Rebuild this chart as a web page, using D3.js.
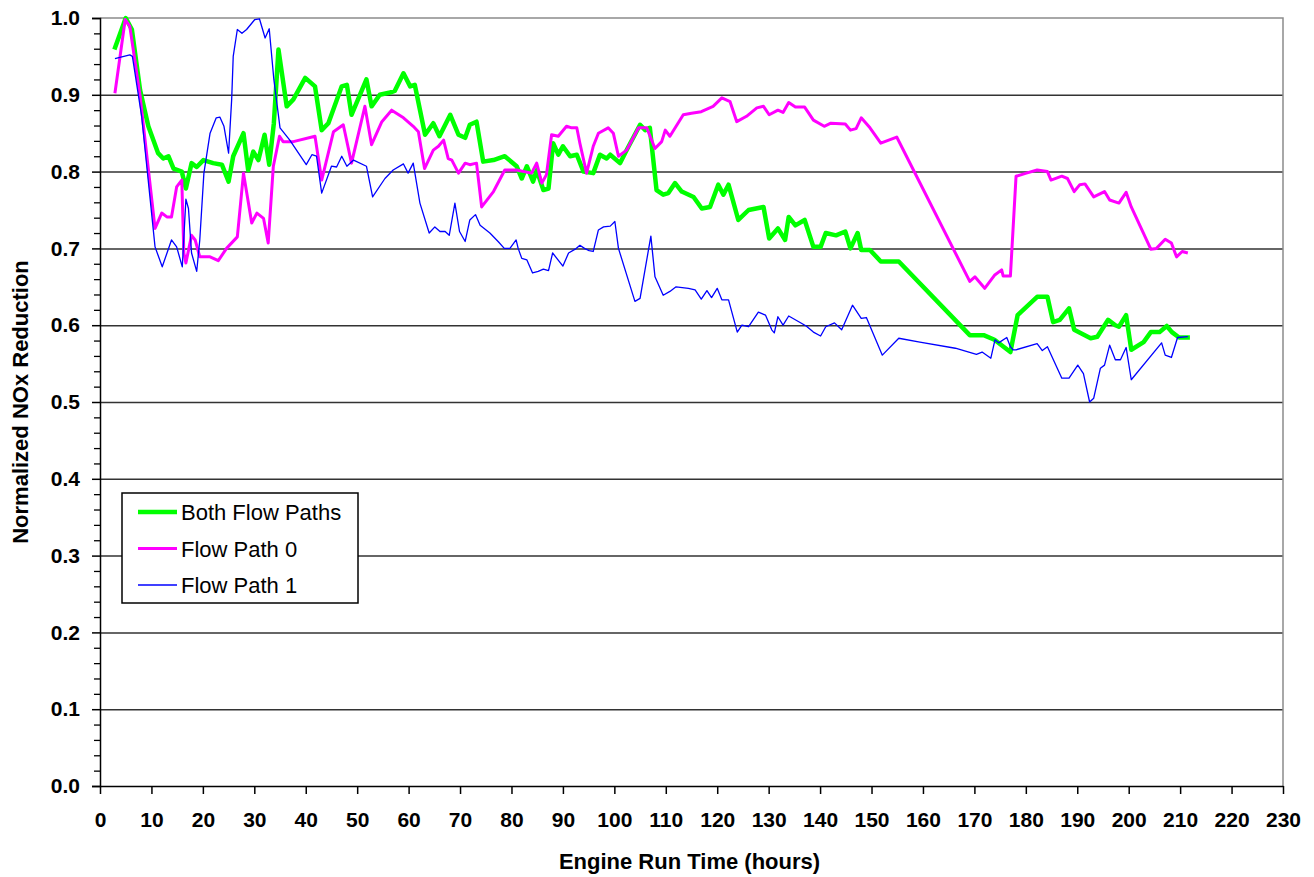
<!DOCTYPE html>
<html>
<head>
<meta charset="utf-8">
<script src="https://cdn.jsdelivr.net/npm/d3@7"></script>
<style>
  body { margin: 0; background: #fff; }
  #chart { width: 1314px; height: 877px; }
</style>
</head>
<body>
<div id="chart"></div>
<script>
// Series values: [engine hours, normalized NOx reduction]
var bothFlowPaths = [[2.8,0.959],[5.0,1.0],[6.2,0.985],[7.8,0.906],[9.4,0.859],[11.3,0.824],[12.3,0.817],[13.3,0.82],[14.3,0.804],[15.9,0.80],[16.7,0.778],[17.8,0.811],[18.8,0.806],[20.1,0.815],[22.0,0.811],[23.7,0.809],[25.0,0.787],[25.9,0.82],[27.9,0.85],[28.8,0.802],[29.8,0.826],[30.8,0.815],[32.0,0.848],[32.9,0.809],[33.8,0.863],[34.7,0.959],[36.3,0.885],[37.6,0.894],[39.9,0.922],[41.8,0.911],[43.1,0.854],[44.4,0.863],[47.0,0.911],[48.0,0.913],[48.9,0.874],[51.8,0.92],[52.8,0.885],[54.4,0.90],[56.4,0.903],[57.3,0.905],[59.0,0.928],[60.3,0.911],[61.2,0.913],[63.2,0.848],[64.8,0.863],[66.0,0.846],[68.1,0.874],[69.7,0.848],[71.0,0.844],[71.9,0.861],[73.2,0.865],[74.5,0.813],[76.5,0.815],[78.7,0.82],[81.0,0.807],[82.0,0.791],[83.0,0.807],[84.2,0.787],[84.9,0.802],[86.2,0.776],[87.2,0.778],[88.1,0.837],[89.1,0.822],[90.0,0.833],[91.4,0.82],[92.7,0.822],[94.0,0.80],[95.9,0.798],[97.2,0.822],[98.5,0.817],[99.2,0.822],[101.1,0.811],[102.4,0.828],[105.0,0.861],[106.0,0.854],[106.9,0.857],[108.2,0.776],[109.5,0.77],[110.5,0.772],[111.8,0.785],[113.1,0.774],[115.4,0.767],[117.0,0.752],[118.6,0.754],[120.2,0.783],[121.2,0.77],[122.2,0.783],[124.1,0.737],[126.1,0.75],[129.0,0.754],[130.1,0.713],[131.8,0.726],[133.2,0.711],[133.9,0.741],[135.2,0.73],[137.0,0.737],[138.7,0.702],[140.1,0.702],[141.1,0.72],[143.1,0.717],[144.9,0.722],[145.9,0.70],[147.3,0.72],[148.0,0.698],[149.7,0.698],[151.8,0.683],[155.3,0.683],[169.1,0.587],[171.8,0.587],[173.9,0.581],[177.0,0.565],[178.4,0.613],[182.2,0.637],[184.2,0.637],[185.3,0.604],[186.6,0.607],[188.4,0.622],[189.4,0.594],[192.6,0.583],[193.9,0.585],[196.0,0.607],[197.4,0.60],[198.1,0.598],[199.5,0.613],[200.5,0.568],[202.9,0.578],[204.3,0.591],[206.0,0.591],[207.4,0.599],[208.4,0.591],[209.8,0.584],[211.9,0.584]];

var flowPath0 = [[2.9,0.902],[4.9,0.998],[5.8,0.989],[7.8,0.898],[10.7,0.726],[12.0,0.746],[13.0,0.741],[13.9,0.741],[14.9,0.78],[15.9,0.789],[16.3,0.694],[16.7,0.681],[17.8,0.717],[18.5,0.711],[19.4,0.689],[21.4,0.689],[23.0,0.684],[24.6,0.70],[26.7,0.715],[27.9,0.798],[29.5,0.733],[30.5,0.746],[31.8,0.739],[32.7,0.707],[33.7,0.807],[34.9,0.846],[35.6,0.839],[37.6,0.839],[41.8,0.846],[43.1,0.789],[45.4,0.852],[47.3,0.861],[48.9,0.811],[51.5,0.885],[52.8,0.835],[54.8,0.865],[56.7,0.88],[59.0,0.87],[60.9,0.859],[61.9,0.852],[63.1,0.804],[64.8,0.828],[65.8,0.833],[66.8,0.841],[67.7,0.817],[68.4,0.815],[69.7,0.798],[71.0,0.811],[71.9,0.809],[73.2,0.811],[74.2,0.754],[76.5,0.774],[78.7,0.802],[81.0,0.802],[83.9,0.798],[84.9,0.811],[85.9,0.785],[86.8,0.796],[87.8,0.848],[89.1,0.846],[90.7,0.859],[91.7,0.857],[92.7,0.857],[93.3,0.837],[94.6,0.798],[95.9,0.833],[96.9,0.85],[98.8,0.857],[99.8,0.85],[100.8,0.82],[102.4,0.828],[104.7,0.857],[106.3,0.857],[107.9,0.83],[109.2,0.839],[109.9,0.854],[110.8,0.846],[113.4,0.874],[115.0,0.876],[116.9,0.878],[119.2,0.885],[120.9,0.896],[122.5,0.891],[123.8,0.865],[125.7,0.872],[127.7,0.883],[129.0,0.885],[130.1,0.874],[131.8,0.88],[132.8,0.877],[133.9,0.89],[135.2,0.884],[137.0,0.884],[138.7,0.867],[140.8,0.859],[142.1,0.863],[144.9,0.862],[145.9,0.854],[147.0,0.856],[148.0,0.87],[149.7,0.857],[151.8,0.837],[154.9,0.845],[169.1,0.657],[170.1,0.663],[172.0,0.648],[173.9,0.665],[175.3,0.672],[175.6,0.664],[177.0,0.664],[178.1,0.794],[180.1,0.798],[182.2,0.802],[184.2,0.80],[184.9,0.789],[187.0,0.794],[188.1,0.791],[189.4,0.774],[190.5,0.783],[191.5,0.784],[193.2,0.767],[195.3,0.774],[196.3,0.763],[198.1,0.759],[199.5,0.773],[200.5,0.754],[204.3,0.699],[205.4,0.70],[207.1,0.712],[208.3,0.707],[209.3,0.689],[210.4,0.696],[211.5,0.694]];

var flowPath1 = [[2.9,0.947],[5.8,0.952],[6.3,0.95],[8.1,0.872],[10.7,0.702],[12.1,0.676],[13.9,0.711],[14.9,0.702],[16.0,0.676],[16.7,0.764],[17.2,0.752],[17.8,0.694],[18.8,0.67],[19.4,0.711],[20.2,0.798],[21.4,0.85],[22.6,0.87],[23.3,0.871],[24.1,0.859],[25.0,0.824],[25.6,0.894],[25.9,0.95],[26.7,0.985],[27.6,0.98],[28.5,0.985],[30.1,0.998],[31.0,0.999],[32.1,0.974],[32.9,0.986],[33.8,0.92],[35.0,0.857],[36.9,0.841],[40.1,0.809],[41.2,0.822],[42.1,0.82],[43.1,0.772],[45.0,0.807],[46.0,0.806],[47.0,0.82],[48.0,0.807],[49.3,0.815],[51.8,0.807],[53.0,0.767],[55.4,0.791],[57.0,0.802],[59.0,0.81],[59.9,0.798],[60.9,0.811],[62.2,0.759],[64.0,0.72],[65.1,0.728],[66.1,0.722],[67.1,0.722],[67.9,0.717],[69.0,0.759],[69.9,0.722],[71.0,0.709],[71.9,0.737],[73.0,0.744],[73.9,0.73],[75.8,0.72],[77.4,0.709],[78.6,0.70],[79.7,0.70],[80.9,0.711],[81.3,0.70],[82.0,0.687],[83.0,0.685],[84.1,0.668],[85.2,0.67],[86.2,0.673],[87.2,0.671],[88.0,0.694],[90.0,0.677],[91.1,0.694],[92.4,0.699],[93.3,0.704],[94.2,0.70],[95.1,0.697],[95.9,0.696],[96.9,0.724],[97.9,0.728],[99.2,0.729],[100.1,0.735],[100.8,0.70],[104.0,0.631],[105.0,0.635],[107.1,0.716],[107.9,0.663],[109.5,0.639],[110.8,0.644],[112.0,0.65],[114.4,0.648],[115.7,0.646],[116.9,0.634],[118.0,0.645],[118.9,0.636],[120.0,0.648],[120.9,0.633],[122.2,0.633],[123.9,0.591],[124.8,0.60],[126.1,0.598],[128.0,0.617],[129.4,0.613],[130.6,0.594],[131.1,0.59],[131.8,0.611],[132.8,0.60],[133.9,0.612],[137.3,0.599],[138.7,0.591],[140.1,0.586],[141.1,0.598],[142.8,0.603],[144.2,0.594],[146.3,0.626],[148.0,0.609],[149.0,0.61],[152.1,0.561],[155.3,0.583],[159.4,0.578],[166.3,0.57],[170.4,0.562],[171.5,0.565],[173.2,0.557],[174.0,0.581],[174.7,0.577],[176.3,0.584],[177.0,0.572],[177.5,0.568],[178.1,0.568],[182.2,0.576],[183.2,0.567],[184.2,0.572],[187.0,0.531],[188.4,0.531],[190.1,0.548],[191.2,0.537],[192.4,0.50],[193.2,0.505],[194.5,0.544],[195.3,0.548],[196.3,0.574],[197.4,0.555],[198.4,0.555],[199.5,0.571],[200.5,0.529],[206.4,0.577],[207.1,0.561],[208.3,0.558],[209.5,0.584],[211.5,0.585]];

var seriesNames = ["Both Flow Paths", "Flow Path 0", "Flow Path 1"];
var xTicks = d3.range(0, 231, 10);
var yTicks = d3.range(0, 11).map(function(i) { return i / 10; });

var margin = { top: 18, right: 31, bottom: 91, left: 100 };
var width = 1314 - margin.left - margin.right;
var height = 877 - margin.top - margin.bottom;

var svg = d3.select("#chart").append("svg")
    .attr("width", 1314)
    .attr("height", 877)
    .style("font-family", "Arial, 'Liberation Sans', sans-serif");

var g = svg.append("g")
    .attr("transform", "translate(" + margin.left + "," + margin.top + ")");

var x = d3.scaleLinear().domain([0, 230]).range([0, width]);
var y = d3.scaleLinear().domain([0, 1]).range([height, 0]);

var colors = d3.scaleOrdinal()
    .domain(seriesNames)
    .range(["#00ff00", "#ff00ff", "#0000ff"]);
var widths = { "Both Flow Paths": 4.5, "Flow Path 0": 3, "Flow Path 1": 1.3 };

//Horizontal gridlines, the 1.0 line is the grey frame instead
g.append("g")
    .attr("class", "grid")
    .call(d3.axisLeft(y)
        .tickValues(yTicks.filter(function(d) { return d > 0 && d < 1; }))
        .tickSize(-width)
        .tickFormat(""))
    .call(function(s) {
        s.select(".domain").remove();
        s.selectAll("line").attr("stroke", "#333").attr("stroke-width", 1.5);
    });

//Grey frame on top and right
g.append("path")
    .attr("d", "M0,0H" + width + "V" + height)
    .attr("fill", "none")
    .attr("stroke", "#8c8c8c")
    .attr("stroke-width", 1.5);

//Minor ticks every 0.02
var minor = d3.range(0, 51).map(function(i) { return i / 50; })
    .filter(function(d, i) { return i % 5 != 0; });
g.append("g")
    .call(d3.axisLeft(y).tickValues(minor).tickSize(6).tickFormat(""))
    .call(function(s) {
        s.select(".domain").remove();
        s.selectAll("line").attr("stroke", "#000").attr("stroke-width", 1.3);
    });

//Y axis
g.append("g")
    .call(d3.axisLeft(y).tickValues(yTicks).tickSize(8).tickPadding(12).tickFormat(d3.format(".1f")))
    .call(function(s) {
        s.select(".domain").attr("stroke", "#000").attr("stroke-width", 1.5);
        s.selectAll("line").attr("stroke", "#000").attr("stroke-width", 1.5);
        s.selectAll("text")
            .attr("fill", "#000")
            .style("font-size", "21px")
            .style("font-weight", "bold")
            .style("font-family", "Arial, 'Liberation Sans', sans-serif");
    });

//X axis
g.append("g")
    .attr("transform", "translate(0," + height + ")")
    .call(d3.axisBottom(x).tickValues(xTicks).tickSize(8).tickPadding(18).tickSizeOuter(0))
    .call(function(s) {
        s.select(".domain").attr("stroke", "#000").attr("stroke-width", 1.5);
        s.selectAll("line").attr("stroke", "#000").attr("stroke-width", 1.5);
        s.selectAll("text")
            .attr("fill", "#000")
            .style("font-size", "21px")
            .style("font-weight", "bold")
            .style("font-family", "Arial, 'Liberation Sans', sans-serif");
    });

var line = d3.line()
    .x(function(d) { return x(d[0]); })
    .y(function(d) { return y(d[1]); });

var series = [
    { key: "Both Flow Paths", values: bothFlowPaths },
    { key: "Flow Path 0", values: flowPath0 },
    { key: "Flow Path 1", values: flowPath1 }
];

g.selectAll(".series")
    .data(series)
    .enter().append("path")
    .attr("class", "series")
    .attr("fill", "none")
    .attr("stroke", function(d) { return colors(d.key); })
    .attr("stroke-width", function(d) { return widths[d.key]; })
    .attr("stroke-linejoin", "round")
    .attr("d", function(d) { return line(d.values); });

//Legend box
var legend = svg.append("g")
    .attr("transform", "translate(122,493)");

legend.append("rect")
    .attr("width", 236)
    .attr("height", 110)
    .attr("fill", "#fff")
    .attr("stroke", "#000")
    .attr("stroke-width", 1.5);

var item = legend.selectAll(".item")
    .data(seriesNames)
    .enter().append("g")
    .attr("class", "item")
    .attr("transform", function(d, i) { return "translate(0," + (19 + i * 36.5) + ")"; });

item.append("line")
    .attr("x1", 16)
    .attr("x2", 55)
    .attr("stroke", function(d) { return colors(d); })
    .attr("stroke-width", function(d) { return widths[d]; });

item.append("text")
    .attr("x", 59)
    .attr("y", 8)
    .style("font-size", "22px")
    .attr("fill", "#000")
    .text(function(d) { return d; });

//Axis titles
svg.append("text")
    .attr("x", margin.left + width / 2 - 2)
    .attr("y", 869)
    .attr("text-anchor", "middle")
    .style("font-size", "22px")
    .style("font-weight", "bold")
    .text("Engine Run Time (hours)");

svg.append("text")
    .attr("transform", "translate(28," + (margin.top + height / 2) + ") rotate(-90)")
    .attr("text-anchor", "middle")
    .style("font-size", "22px")
    .style("font-weight", "bold")
    .text("Normalized NOx Reduction");
</script>
</body>
</html>
